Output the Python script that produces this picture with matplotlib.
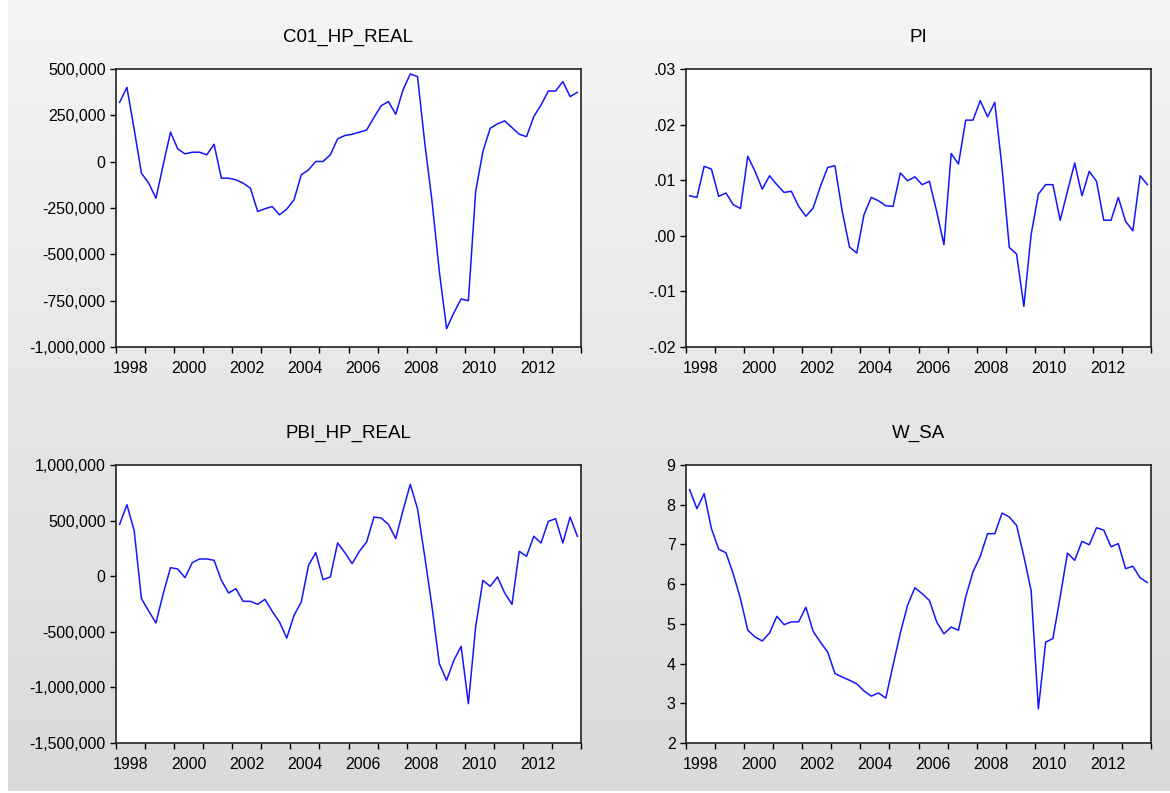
import numpy as np
import matplotlib
matplotlib.use("Agg")
import matplotlib.pyplot as plt
from matplotlib.ticker import FixedLocator, FuncFormatter, NullFormatter

plt.rcParams['font.family'] = ['Liberation Sans', 'DejaVu Sans']

# quarterly series, 1998Q1 - 2013Q4
start_year = 1998
end_year = 2014

c01_hp_real = [320000, 401000, 175000, -62000, -116000, -197000, -17000, 159000,
               69000, 42000, 51000, 51000, 37000, 94000, -89000, -89000,
               -98000, -116000, -143000, -269000, -254000, -242000, -287000, -256000,
               -206000, -71000, -44000, 1000, 1000, 37000, 123000, 141000,
               148000, 159000, 171000, 238000, 302000, 324000, 256000, 387000,
               473000, 459000, 100000, -215000, -592000, -901000, -816000, -741000,
               -750000, -161000, 55000, 180000, 204000, 220000, 184000, 148000,
               135000, 243000, 306000, 381000, 381000, 432000, 351000, 374000]

pi = [0.0072, 0.0069, 0.0125, 0.0120, 0.0071, 0.0077, 0.0056, 0.0049,
      0.0143, 0.0116, 0.0084, 0.0108, 0.0092, 0.0078, 0.0080, 0.0053,
      0.0035, 0.0050, 0.0089, 0.0123, 0.0126, 0.0044, -0.0020, -0.0031,
      0.0038, 0.0069, 0.0063, 0.0054, 0.0053, 0.0113, 0.0099, 0.0106,
      0.0092, 0.0098, 0.0044, -0.0016, 0.0148, 0.0129, 0.0208, 0.0208,
      0.0243, 0.0214, 0.0240, 0.0122, -0.0021, -0.0033, -0.0127, 0.0002,
      0.0075, 0.0092, 0.0092, 0.0028, 0.0080, 0.0131, 0.0072, 0.0116,
      0.0098, 0.0028, 0.0028, 0.0069, 0.0026, 0.0009, 0.0108, 0.0092]

pbi_hp_real = [466000, 643000, 412000, -202000, -313000, -421000, -157000, 77000,
               65000, -13000, 122000, 155000, 155000, 143000, -37000, -151000,
               -112000, -226000, -226000, -253000, -208000, -316000, -412000, -556000,
               -352000, -232000, 98000, 212000, -31000, -7000, 299000, 212000,
               113000, 224000, 308000, 532000, 523000, 466000, 338000, 592000,
               826000, 607000, 173000, -277000, -787000, -936000, -757000, -631000,
               -1146000, -457000, -37000, -91000, -7000, -151000, -253000, 224000,
               179000, 359000, 299000, 493000, 517000, 299000, 532000, 359000]

w_sa = [8.38, 7.90, 8.28, 7.40, 6.88, 6.79, 6.26, 5.63,
        4.84, 4.67, 4.57, 4.77, 5.19, 4.98, 5.05, 5.05,
        5.42, 4.81, 4.54, 4.29, 3.75, 3.66, 3.58, 3.49,
        3.31, 3.18, 3.26, 3.13, 3.96, 4.77, 5.47, 5.91,
        5.76, 5.59, 5.05, 4.75, 4.92, 4.84, 5.68, 6.31,
        6.70, 7.27, 7.27, 7.79, 7.69, 7.48, 6.70, 5.84,
        2.86, 4.54, 4.63, 5.68, 6.78, 6.60, 7.08, 6.99,
        7.42, 7.36, 6.94, 7.02, 6.39, 6.45, 6.16, 6.04]

titles = ["C01_HP_REAL", "PI", "PBI_HP_REAL", "W_SA"]
y_ticks = [
    [-1000000, -750000, -500000, -250000, 0, 250000, 500000],
    [-0.02, -0.01, 0.0, 0.01, 0.02, 0.03],
    [-1500000, -1000000, -500000, 0, 500000, 1000000],
    [2, 3, 4, 5, 6, 7, 8, 9],
]

W, H = 1170, 793
# panel boxes in pixels: left, top, right, bottom
boxes = [(116, 69, 581, 347), (686, 69, 1151, 347),
         (116, 465, 581, 743), (686, 465, 1151, 743)]


def comma_fmt(v, pos):
    return f"{v:,.0f}"


def dot_fmt(v, pos):
    s = f"{v:.2f}"
    return s.replace("0.", ".", 1)


def int_fmt(v, pos):
    return f"{v:.0f}"


def draw_background(fig):
    bg = fig.add_axes([0, 0, 1, 1], zorder=-10)
    grad = np.linspace(0.955, 0.85, 256).reshape(-1, 1)
    bg.imshow(grad, cmap="gray", vmin=0, vmax=1, aspect="auto",
              extent=[8, W, 2, H], origin="upper")
    bg.set_xlim(0, W)
    bg.set_ylim(0, H)
    bg.axis("off")


def draw_panel(fig, box, values, title, ticks, fmt):
    l, t, r, b = box
    ax = fig.add_axes([l / W, 1 - b / H, (r - l) / W, (b - t) / H])
    ax.set_facecolor("white")
    x = start_year + (np.arange(len(values)) + 0.5) / 4
    ax.plot(x, values, color="#1414ff", lw=1.1)

    ax.set_xlim(start_year, end_year)
    ax.set_ylim(ticks[0], ticks[-1])
    ax.xaxis.set_major_locator(FixedLocator(range(start_year, end_year + 1)))
    ax.xaxis.set_major_formatter(NullFormatter())
    ax.xaxis.set_minor_locator(FixedLocator([yr + 0.5 for yr in range(start_year, end_year, 2)]))
    ax.xaxis.set_minor_formatter(FuncFormatter(lambda v, p: f"{int(v)}"))
    ax.tick_params(axis="x", which="major", length=4.5, width=1, direction="out")
    ax.tick_params(axis="x", which="minor", length=0, pad=10, labelsize=11.5)

    ax.set_yticks(ticks)
    ax.yaxis.set_major_formatter(FuncFormatter(fmt))
    ax.tick_params(axis="y", length=4, width=1, pad=3.5, labelsize=11.5)

    for side in ["left", "right", "top", "bottom"]:
        ax.spines[side].set_linewidth(1.2)
        ax.spines[side].set_color("#222222")

    fig.text((l + r) / 2 / W, 1 - (t - 32) / H, title, ha="center", va="center",
             fontsize=13.5)


def main():
    fig = plt.figure(figsize=(W / 100, H / 100), dpi=100)
    fig.patch.set_facecolor("white")
    draw_background(fig)

    series = [c01_hp_real, pi, pbi_hp_real, w_sa]
    fmts = [comma_fmt, dot_fmt, comma_fmt, int_fmt]
    for box, values, title, ticks, fmt in zip(boxes, series, titles, y_ticks, fmts):
        draw_panel(fig, box, values, title, ticks, fmt)

    fig.savefig("out.png", dpi=100, facecolor=fig.get_facecolor())


if __name__ == "__main__":
    main()
